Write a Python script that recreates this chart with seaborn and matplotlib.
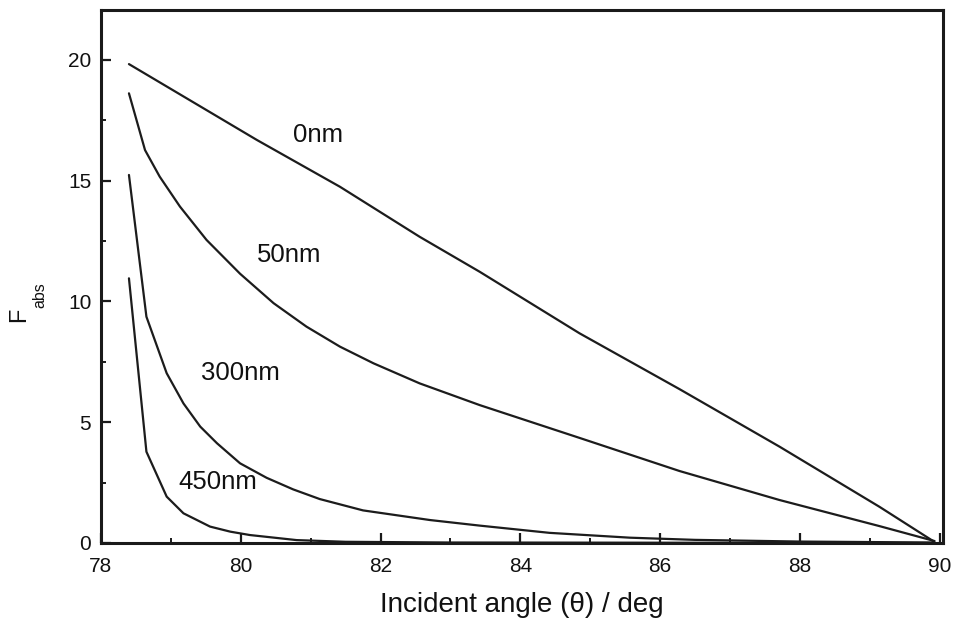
import numpy as np
import pandas as pd
import seaborn as sns
import matplotlib
matplotlib.use("Agg")
import matplotlib.pyplot as plt
from matplotlib.ticker import MultipleLocator

# Absorbed fraction F_abs versus incident angle for several film thicknesses
angle_0nm = [78.40, 80.23, 81.42, 82.56, 83.42, 84.85, 86.28, 87.71, 89.14, 89.92]
fabs_0nm = [19.83, 16.69, 14.75, 12.68, 11.23, 8.68, 6.37, 3.99, 1.50, 0.06]

angle_50nm = [78.40, 78.63, 78.84, 79.13, 79.51, 79.99, 80.47, 80.94, 81.42, 81.90,
              82.56, 83.42, 84.85, 86.28, 87.71, 89.14, 89.93]
fabs_50nm = [18.62, 16.27, 15.17, 13.93, 12.55, 11.15, 9.93, 8.96, 8.13, 7.44,
             6.61, 5.71, 4.35, 2.98, 1.78, 0.70, 0.08]

angle_300nm = [78.40, 78.65, 78.94, 79.18, 79.42, 79.66, 79.99, 80.37, 80.75, 81.13,
               81.75, 82.71, 83.42, 84.42, 85.57, 86.50, 88.00, 89.92]
fabs_300nm = [15.24, 9.37, 7.03, 5.78, 4.82, 4.13, 3.30, 2.70, 2.22, 1.82,
              1.35, 0.95, 0.72, 0.42, 0.22, 0.13, 0.06, 0.02]

angle_450nm = [78.40, 78.65, 78.94, 79.18, 79.56, 79.85, 80.13, 80.80, 81.50, 83.00, 89.92]
fabs_450nm = [10.96, 3.78, 1.92, 1.23, 0.68, 0.47, 0.33, 0.12, 0.05, 0.02, 0.0]

thickness_labels = ["0nm", "50nm", "300nm", "450nm"]
label_angle = [81.10, 80.69, 80.00, 79.67]
label_fabs = [16.90, 11.93, 7.04, 2.53]

x_ticks = [78, 80, 82, 84, 86, 88, 90]
y_ticks = [0, 5, 10, 15, 20]

sns.set_theme(style="ticks")
plt.rcParams["font.family"] = ["Liberation Sans", "DejaVu Sans"]

fig = plt.figure(figsize=(9.58, 6.21), dpi=100)
ax = fig.add_axes([101 / 958, 1 - 543 / 621, 842 / 958, 533 / 621])

line_color = "#1c1c1c"
series = [(angle_0nm, fabs_0nm), (angle_50nm, fabs_50nm),
          (angle_300nm, fabs_300nm), (angle_450nm, fabs_450nm)]
for xs, ys in series:
    df = pd.DataFrame({"angle": xs, "fabs": ys})
    sns.lineplot(data=df, x="angle", y="fabs", ax=ax, color=line_color,
                 linewidth=1.6, sort=False, estimator=None)

for name, lx, ly in zip(thickness_labels, label_angle, label_fabs):
    ax.text(lx, ly, name, ha="center", va="center", fontsize=18.5, color="#111111")

ax.set_xlim(78, 90.05)
ax.set_ylim(0, 22.07)
ax.set_xticks(x_ticks)
ax.set_yticks(y_ticks)
ax.xaxis.set_minor_locator(MultipleLocator(1))
ax.yaxis.set_minor_locator(MultipleLocator(2.5))

for side in ["left", "right", "top", "bottom"]:
    ax.spines[side].set_visible(True)
    ax.spines[side].set_linewidth(2.2)
    ax.spines[side].set_color("#1a1a1a")

ax.tick_params(axis="both", which="major", direction="in", length=7, width=1.6,
               color="#1a1a1a", labelsize=15, labelcolor="#111111")
ax.tick_params(axis="both", which="minor", direction="in", length=3.5, width=1.4,
               color="#1a1a1a")
ax.tick_params(axis="x", which="major", pad=10)
ax.tick_params(axis="y", which="major", pad=7)

ax.set_xlabel("Incident angle (\u03b8) / deg", fontsize=20, color="#111111")
ax.xaxis.set_label_coords(0.5, -0.092)
ax.set_ylabel("")

# y-axis title: F with a lowered "abs" subscript
fig.text(19 / 958, 1 - 315 / 621, "F", rotation=90, ha="center", va="center",
         fontsize=17, color="#111111")
fig.text(40 / 958, 1 - 295 / 621, "abs", rotation=90, ha="center", va="center",
         fontsize=11.5, color="#111111")

fig.savefig("out.png", dpi=100, facecolor="white")
